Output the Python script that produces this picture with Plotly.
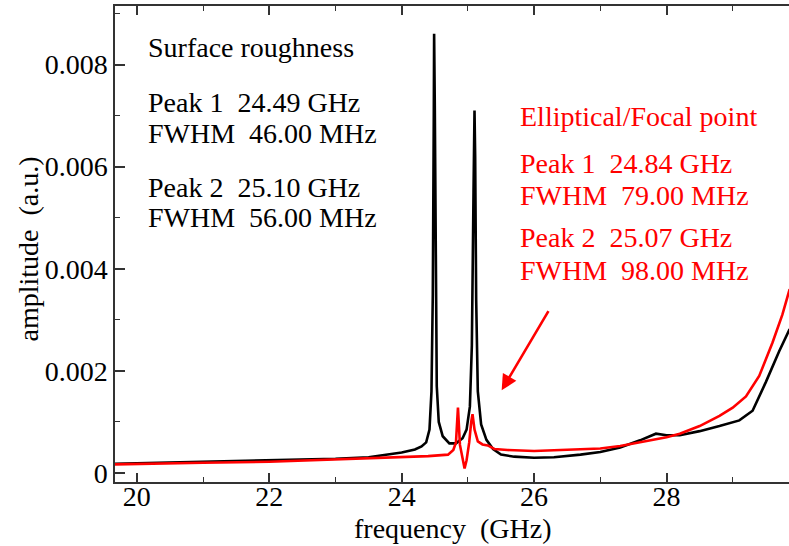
import plotly.graph_objects as go

# ---------------- data ----------------
freq_black = [19.67, 20.0, 21.0, 22.0, 23.0, 23.5, 24.0, 24.2, 24.3, 24.37, 24.42, 24.45, 24.47, 24.485,
              24.49, 24.50, 24.515, 24.53, 24.56, 24.62, 24.72, 24.82, 24.92, 24.98, 25.03, 25.06,
              25.085, 25.10, 25.11, 25.125, 25.15, 25.2, 25.28, 25.38, 25.5, 25.7, 26.0, 26.3,
              26.7, 27.0, 27.3, 27.6, 27.84, 28.0, 28.2, 28.5, 28.8, 29.1, 29.3, 29.5, 29.7, 29.86]
amp_black = [0.00018, 0.00019, 0.00021, 0.00024, 0.00028, 0.00031, 0.00040, 0.00046, 0.00052, 0.00060,
             0.00085, 0.0016, 0.0035, 0.0070,
             0.0086, 0.0072, 0.0035, 0.0017, 0.0010, 0.00072, 0.00058, 0.00058, 0.00068, 0.00085,
             0.0013, 0.0025,
             0.0055, 0.0071, 0.0062, 0.0034, 0.0016, 0.00095, 0.00065, 0.00047, 0.00036, 0.00032,
             0.00030, 0.00031,
             0.00036, 0.00041, 0.00050, 0.00064, 0.00077, 0.00074, 0.00074, 0.00082, 0.00092,
             0.00103, 0.00122, 0.00178, 0.00238, 0.00282]

freq_red = [19.67, 20.0, 21.0, 22.0, 23.0, 24.0, 24.4, 24.7, 24.78, 24.82, 24.85, 24.88, 24.92, 24.95,
            24.98, 25.02, 25.05, 25.07, 25.10, 25.15, 25.22, 25.30, 25.40, 25.6, 26.0, 26.5, 27.0,
            27.3, 27.6, 28.0, 28.2, 28.5, 28.8, 29.0, 29.2, 29.4, 29.6, 29.75, 29.86]
amp_red = [0.00017, 0.00018, 0.00020, 0.00022, 0.00026, 0.00031, 0.00033, 0.00036, 0.00045, 0.00060,
           0.00128, 0.00055, 0.00030, 0.00009,
           0.00025, 0.00060, 0.00100, 0.00115, 0.00085, 0.00062, 0.00056, 0.00054, 0.00047, 0.00045,
           0.00043, 0.00045, 0.00048,
           0.00053, 0.00060, 0.00070, 0.00077, 0.00092, 0.00112, 0.00128, 0.00150, 0.00190, 0.00255,
           0.00310, 0.00360]

x_tickvals = [20, 22, 24, 26, 28]
x_ticktext = ["20", "22", "24", "26", "28"]
y_tickvals = [0, 0.002, 0.004, 0.006, 0.008]
y_ticktext = ["0", "0.002", "0.004", "0.006", "0.008"]

x_range = [19.67, 29.85]
y_range = [-0.000176, 0.009146]

black_lines = ["Surface roughness",
               "Peak 1\u00a0\u00a024.49 GHz", "FWHM\u00a0\u00a046.00 MHz",
               "Peak 2\u00a0\u00a025.10 GHz", "FWHM\u00a0\u00a056.00 MHz"]
black_y = [0.00834, 0.00726, 0.00665, 0.00560, 0.00500]
red_lines = ["Elliptical/Focal point",
             "Peak 1\u00a0\u00a024.84 GHz", "FWHM\u00a0\u00a079.00 MHz",
             "Peak 2\u00a0\u00a025.07 GHz", "FWHM\u00a0\u00a098.00 MHz"]
red_y = [0.00698, 0.00606, 0.00543, 0.00462, 0.00397]

FONT = "Liberation Serif"
FS = 28

fig = go.Figure()
fig.add_trace(go.Scatter(x=freq_black, y=amp_black, mode="lines",
                         line=dict(color="black", width=2.6), showlegend=False))
fig.add_trace(go.Scatter(x=freq_red, y=amp_red, mode="lines",
                         line=dict(color="#ff0000", width=2.6), showlegend=False))

annotations = []
for t, yy in zip(black_lines, black_y):
    annotations.append(dict(x=20.14, y=yy, xref="x", yref="y", text=t, showarrow=False,
                            xanchor="left", yanchor="middle",
                            font=dict(family=FONT, size=FS, color="black")))
for t, yy in zip(red_lines, red_y):
    annotations.append(dict(x=25.76, y=yy, xref="x", yref="y", text=t, showarrow=False,
                            xanchor="left", yanchor="middle",
                            font=dict(family=FONT, size=FS, color="#ff0000")))
annotations.append(dict(x=25.51, y=0.00162, ax=26.23, ay=0.00320, xref="x", yref="y",
                        axref="x", ayref="y", text="", showarrow=True, arrowhead=2,
                        arrowsize=1.2, arrowwidth=2.6, arrowcolor="#ff0000"))
# axis titles
annotations.append(dict(x=0.5, y=-0.097, xref="paper", yref="paper", showarrow=False,
                        text="frequency\u00a0\u00a0(GHz)", xanchor="center", yanchor="middle",
                        font=dict(family=FONT, size=FS, color="black")))
annotations.append(dict(x=-0.128, y=0.49, xref="paper", yref="paper", showarrow=False,
                        text="amplitude\u00a0\u00a0(a.u.)", textangle=-90, xanchor="center",
                        yanchor="middle", font=dict(family=FONT, size=FS, color="black")))

axis_common = dict(showgrid=False, zeroline=False, ticks="inside", automargin=False,
                   linecolor="#333333", linewidth=1.5, tickcolor="#333333",
                   tickfont=dict(family=FONT, size=FS, color="black"))

fig.update_layout(
    width=789, height=546,
    margin=dict(l=115, r=0, t=6, b=64),
    paper_bgcolor="white", plot_bgcolor="white",
    annotations=annotations,
    xaxis=dict(range=x_range, tickvals=x_tickvals, ticktext=x_ticktext,
               showline=True, mirror="ticks", ticklen=9, tickwidth=1.5, ticklabelstandoff=-11,
               minor=dict(dtick=1, tick0=19, ticks="inside", ticklen=5, tickcolor="#333333", tickwidth=1.2),
               **axis_common),
    yaxis=dict(range=y_range, tickvals=y_tickvals, ticktext=y_ticktext,
               showline=True, mirror=False, ticklen=10, tickwidth=1.5,
               minor=dict(dtick=0.001, tick0=0, ticks="inside", ticklen=5, tickcolor="#333333", tickwidth=1.2),
               **axis_common),
    yaxis2=dict(range=y_range, overlaying="y", side="right", showline=False, showgrid=False,
                zeroline=False, ticks="inside", ticklen=10, tickwidth=1.5, tickcolor="#333333",
                tickvals=y_tickvals, showticklabels=False, automargin=False,
                minor=dict(dtick=0.001, tick0=0, ticks="inside", ticklen=5, tickcolor="#333333", tickwidth=1.2)),
)

fig.write_html("out.html", config={"displayModeBar": False},
               post_script="document.body.style.margin='0px';")
